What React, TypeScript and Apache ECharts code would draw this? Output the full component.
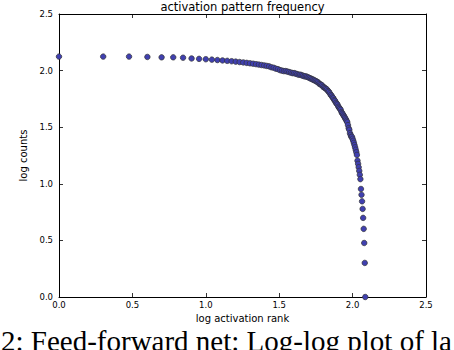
import React, { useEffect, useRef } from "react";
import * as echarts from "echarts";

// counts of each activation pattern, sorted by rank (rank = index + 1)
const counts: number[] = [
  133, 133, 133, 132, 131, 131, 130, 128, 127, 126,
  125, 124, 123, 122, 121, 120, 119, 118, 117, 116,
  115, 114, 113, 112, 111, 110, 109, 107, 106, 104,
  103, 101, 100, 99, 99, 98, 97, 96, 95, 95,
  94, 93, 92, 92, 91, 90, 89, 89, 88, 87,
  86, 85, 84, 83, 82, 81, 80, 79, 77, 76,
  75, 74, 72, 71, 70, 69, 68, 66, 65, 63,
  61, 60, 58, 57, 55, 54, 52, 51, 50, 48,
  47, 46, 45, 43, 42, 41, 40, 39, 38, 37,
  36, 35, 33, 31, 30, 28, 27, 26, 26, 25,
  24, 23, 22, 21, 20, 19, 18, 16, 15, 14,
  13, 12, 11, 9, 8, 7, 6, 5, 4, 3,
  2, 1,
];

const titleText = "activation pattern frequency";
const xLabel = "log activation rank";
const yLabel = "log counts";
const caption = "2: Feed-forward net: Log-log plot of la";
const axisMin = 0;
const axisMax = 2.5;
const axisStep = 0.5;

export default function App() {
  const ref = useRef<HTMLDivElement>(null);
  useEffect(() => {
    if (!ref.current) return;
    const chart = echarts.init(ref.current, null, { renderer: "svg" });
    const data = counts.map((c, i) => [Math.log10(i + 1), Math.log10(c)]);
    const tickFont = { fontFamily: "DejaVu Sans", fontSize: 8.5, color: "#000" };
    const lineStyle = { color: "#000", width: 1 };
    const tick = { show: true, inside: true, length: 4, lineStyle: { color: "#000", width: 0.8 } };
    const fmt = (v: number) => v.toFixed(1);
    chart.setOption({
      animation: false,
      backgroundColor: "#fff",
      grid: { left: 59, right: 28, top: 14, bottom: 53, containLabel: false },
      xAxis: [
        {
          type: "value", min: axisMin, max: axisMax, interval: axisStep, position: "bottom",
          name: xLabel, nameLocation: "middle", nameGap: 16,
          nameTextStyle: { fontFamily: "DejaVu Sans", fontSize: 10, color: "#000" },
          axisLine: { show: true, lineStyle }, axisTick: tick,
          axisLabel: { ...tickFont, margin: 3, formatter: fmt },
          splitLine: { show: false },
        },
        {
          type: "value", min: axisMin, max: axisMax, interval: axisStep, position: "top",
          axisLine: { show: true, onZero: false, lineStyle }, axisTick: tick,
          axisLabel: { show: false }, splitLine: { show: false },
        },
      ],
      yAxis: [
        {
          type: "value", min: axisMin, max: axisMax, interval: axisStep, position: "left",
          name: yLabel, nameLocation: "middle", nameGap: 22,
          nameTextStyle: { fontFamily: "DejaVu Sans", fontSize: 10, color: "#000" },
          axisLine: { show: true, lineStyle }, axisTick: tick,
          axisLabel: { ...tickFont, margin: 6, formatter: fmt },
          splitLine: { show: false },
        },
        {
          type: "value", min: axisMin, max: axisMax, interval: axisStep, position: "right",
          axisLine: { show: true, onZero: false, lineStyle }, axisTick: tick,
          axisLabel: { show: false }, splitLine: { show: false },
        },
      ],
      series: [
        {
          type: "scatter",
          xAxisIndex: 0,
          yAxisIndex: 0,
          data,
          symbol: "circle",
          symbolSize: 5.5,
          clip: true,
          itemStyle: { color: "#4040b0", borderColor: "#333", borderWidth: 0.7, opacity: 1 },
        },
      ],
      graphic: [
        {
          type: "text", silent: true, x: 242.5, y: 7,
          style: {
            text: titleText, fill: "#000",
            fontFamily: "DejaVu Sans", fontSize: 11.5, align: "center", verticalAlign: "middle",
          },
        },
        {
          type: "text", silent: true, x: 1, y: 341,
          style: {
            text: caption, fill: "#000",
            fontFamily: "Liberation Serif", fontSize: 29, align: "left", verticalAlign: "middle",
          },
        },
      ],
    });
    return () => chart.dispose();
  }, []);
  return (
    <div
      ref={ref}
      style={{ position: "fixed", left: 0, top: 0, width: 454, height: 350, background: "#fff" }}
    />
  );
}
